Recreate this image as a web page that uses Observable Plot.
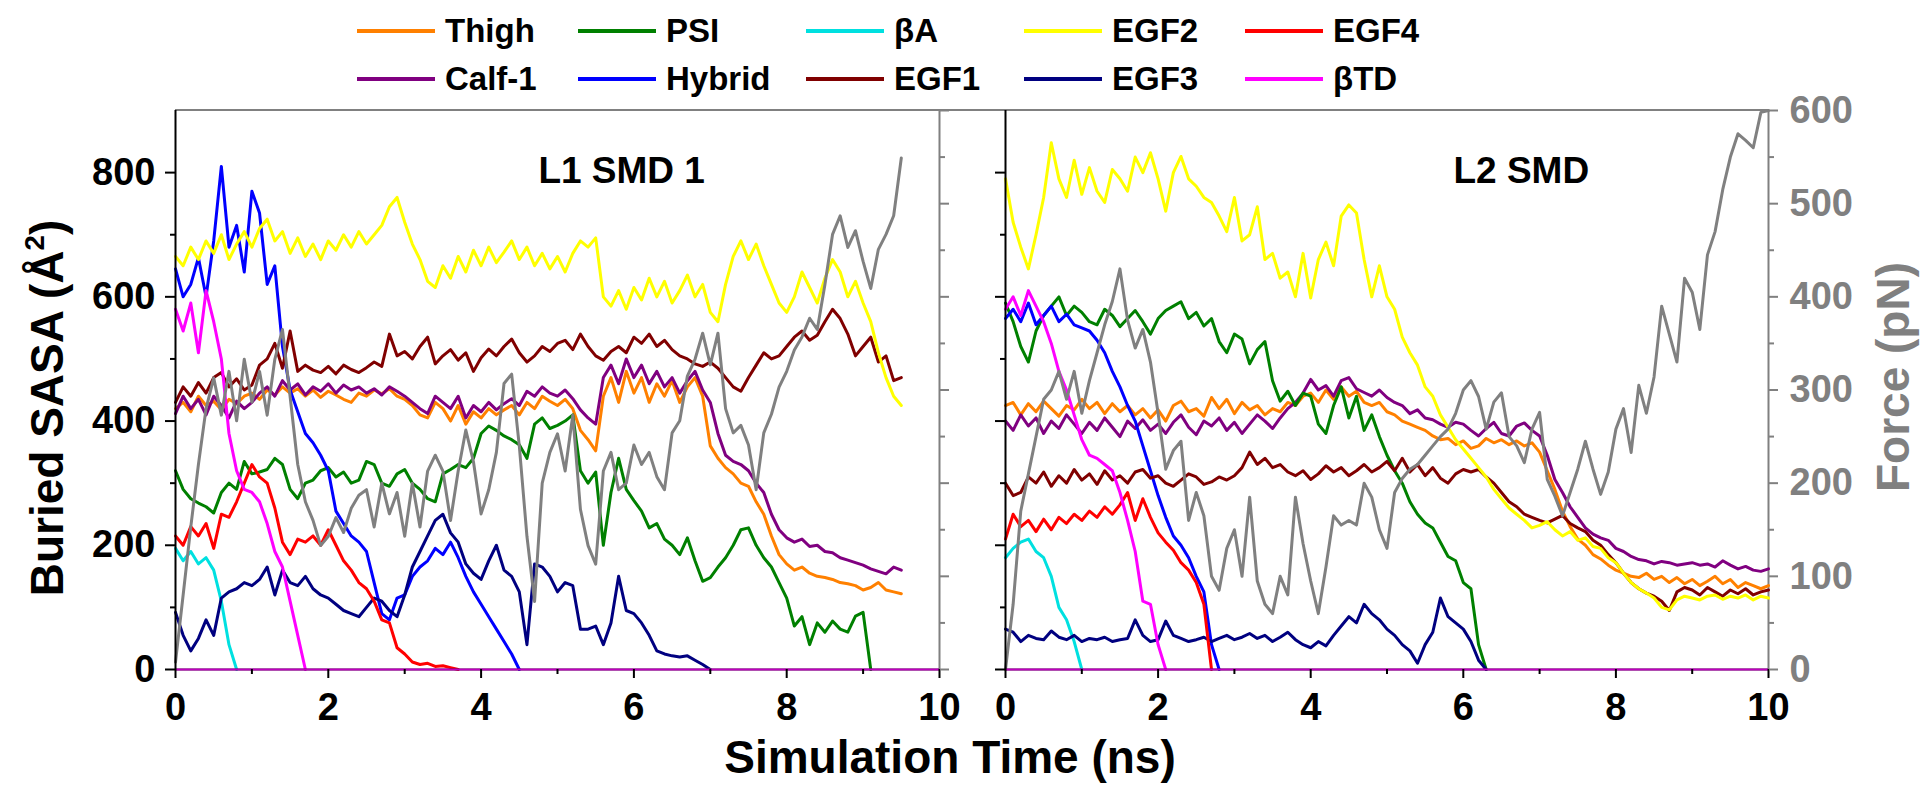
<!DOCTYPE html>
<html><head><meta charset="utf-8">
<script src="https://cdn.jsdelivr.net/npm/d3@7"></script>
<script src="https://cdn.jsdelivr.net/npm/@observablehq/plot@0.6"></script>
<style>
body{margin:0;background:#fff;}
#wrap{position:relative;width:1923px;height:798px;overflow:hidden;font-family:"Liberation Sans",Arial,sans-serif;font-weight:bold;color:#000;}
.abs{position:absolute;}
.leg{position:absolute;display:flex;align-items:center;font-size:33px;line-height:1;white-space:nowrap;}
.leg span.sw{display:inline-block;width:78px;height:4px;margin-right:10px;}
.title{position:absolute;white-space:nowrap;line-height:1;}
</style></head>
<body><div id="wrap"></div>
<script>
// ---------- categories / styling ----------
const domains = ["Thigh","Calf-1","PSI","Hybrid","βA","EGF1","EGF2","EGF3","EGF4","βTD"];
const domainColors = ["#ff8000","#800080","#008000","#0000ff","#00e0e0","#800000","#ffff00","#000080","#ff0000","#ff00ff"];
const legendRow1 = ["Thigh","PSI","βA","EGF2","EGF4"];
const legendRow2 = ["Calf-1","Hybrid","EGF1","EGF3","βTD"];
const forceColor = "#808080";
const panelLabels = ["L1 SMD 1","L2 SMD"];
const timeTicks = [0,2,4,6,8,10];
const timeMinorTicks = [1,3,5,7,9];
const sasaTicks = [0,200,400,600,800];
const sasaMinorTicks = [100,300,500,700];
const forceTicks = [0,100,200,300,400,500,600];
const forceMinorTicks = [50,150,250,350,450,550];
const timeDomain = [0,10];
const sasaDomain = [0,900];
const forceDomain = [0,600];
const dt = 0.1; // sampling interval (ns) of the series below

// ---------- L1 SMD 1 : buried SASA (Å²), one value per 0.1 ns ----------
const L1_Thigh = [420,430,415,440,425,432,418,435,428,440,445,435,450,442,455,445,452,440,450,438,
448,442,435,430,445,440,450,444,452,440,435,425,410,405,430,420,400,425,395,415,
405,420,410,418,425,410,430,420,440,432,425,435,420,385,370,352,440,470,430,480,
445,470,430,460,440,465,430,455,470,440,360,340,325,315,300,295,270,250,215,185,
170,160,165,155,150,148,145,140,138,135,128,132,140,128,125,122];
const L1_Calf1 = [412,440,420,435,410,440,425,405,432,420,430,445,455,440,465,450,460,442,455,448,
460,445,458,450,455,445,452,442,455,448,440,430,420,412,440,430,420,440,405,425,
415,430,418,428,436,425,448,440,455,445,440,450,436,418,405,395,470,490,460,500,
470,490,460,480,455,470,445,465,480,450,430,380,345,335,330,320,300,285,250,225,
212,205,210,198,200,190,188,180,176,172,168,162,158,154,165,160];
const L1_PSI = [320,290,275,268,262,252,285,300,290,335,315,318,322,340,330,290,275,300,305,320,
325,310,318,300,305,335,330,300,295,315,322,300,290,275,270,315,322,330,325,340,
380,392,385,376,370,362,340,395,405,388,393,400,410,320,300,318,200,285,340,290,
272,255,228,235,210,200,185,212,175,142,148,165,180,200,225,228,200,180,165,140,
115,70,85,40,75,60,78,65,60,86,92,0];
const L1_Hybrid = [645,600,620,663,600,690,810,680,715,640,770,735,620,650,520,450,415,380,365,345,
320,255,235,215,205,190,140,90,80,115,120,150,165,175,195,185,205,180,150,125,
105,85,65,45,25,0];
const L1_bA = [195,175,190,170,180,160,110,40,0];
const L1_EGF1 = [430,455,440,462,445,470,478,455,468,450,458,490,500,525,485,545,480,490,482,478,
488,476,490,483,478,486,495,488,540,505,512,500,520,535,492,505,515,498,510,480,
502,516,505,520,532,510,495,505,520,512,525,530,515,540,520,505,498,512,520,510,
535,525,540,520,530,515,505,500,492,488,495,485,470,455,448,470,490,510,500,505,
520,535,545,530,538,560,580,565,540,505,520,535,495,505,465,470];
const L1_EGF2 = [665,650,680,660,690,670,700,660,685,705,680,710,725,690,705,670,695,665,685,660,
690,675,700,680,705,685,700,715,745,760,720,685,660,625,615,650,630,665,640,675,
650,680,655,672,690,660,680,650,670,645,665,640,670,690,680,695,600,585,610,580,
615,595,630,600,625,590,610,635,600,620,575,560,620,665,690,660,685,650,620,590,
575,600,640,615,590,630,660,640,600,625,590,560,510,470,440,425];
const L1_EGF3 = [92,55,30,50,80,55,115,125,130,140,135,145,165,120,160,140,135,150,130,120,
115,105,95,90,85,100,115,110,95,85,120,165,190,215,240,250,220,205,170,155,
145,175,200,160,150,125,40,170,165,150,125,140,135,65,65,70,40,75,150,95,
90,75,55,30,25,22,20,22,15,8,0];
const L1_EGF4 = [215,200,230,215,235,195,250,245,270,300,330,310,300,260,205,185,210,205,215,200,
225,200,175,160,140,130,110,80,75,35,25,12,8,10,5,6,3,0];
const L1_bTD = [580,545,590,510,610,560,500,380,320,290,285,270,235,190,165,110,55,0];
// force (pN), one value per 0.1 ns
const L1_Force = [8,80,153,220,280,313,273,320,267,333,287,320,273,333,365,293,220,180,160,133,
143,163,147,173,187,193,153,200,167,190,143,200,153,213,230,213,160,213,257,223,
167,193,233,307,317,240,143,73,200,233,253,213,273,172,133,113,213,233,193,200,
241,220,233,207,193,254,267,315,333,361,327,361,280,254,262,241,193,254,274,303,
320,343,357,377,365,413,467,487,453,471,438,409,451,467,487,549];

// ---------- L2 SMD ----------
const L2_Thigh = [425,430,410,428,415,432,420,408,425,418,435,420,430,412,428,415,425,410,420,405,
418,400,425,432,415,420,408,438,420,435,412,430,418,425,410,420,415,430,425,440,
445,430,450,435,455,440,448,430,425,430,415,410,400,395,390,385,376,370,372,362,
368,356,360,372,365,370,362,368,360,365,350,320,290,255,230,210,200,185,178,168,
160,155,150,148,155,145,150,140,148,138,145,135,142,150,138,145,132,140,135,130,135];
const L2_Calf1 = [400,385,410,392,405,380,400,388,410,395,380,398,385,405,390,375,400,388,402,385,
395,380,398,410,390,378,400,392,405,385,398,380,395,410,400,388,405,420,430,445,
467,450,457,440,465,470,452,446,440,450,438,430,425,412,418,405,402,395,390,398,
395,385,376,388,398,380,376,392,397,385,376,345,306,285,262,245,228,218,212,208,
195,190,182,177,175,170,174,172,168,170,172,168,170,165,175,168,162,166,160,158,162];
const L2_PSI = [590,560,520,495,545,570,585,600,570,585,575,560,555,580,570,552,565,578,560,540,
565,578,585,592,565,575,553,565,528,510,540,532,492,515,528,465,432,448,425,445,
440,395,380,425,455,405,440,385,410,375,345,320,300,270,250,236,228,205,182,175,
140,130,40,0];
const L2_Hybrid = [565,580,560,590,555,570,585,560,572,555,550,545,530,510,480,455,425,400,360,320,
280,245,215,200,180,150,125,40,0];
const L2_bA = [180,195,205,210,190,180,150,100,80,45,0];
const L2_EGF1 = [300,280,285,310,300,318,295,312,300,322,305,315,298,320,305,312,300,318,322,308,
312,300,295,305,315,310,298,302,310,305,312,325,350,330,340,325,330,318,312,320,
306,315,328,318,325,312,320,330,318,325,335,320,340,318,330,312,325,308,300,315,
322,318,322,310,300,285,270,262,250,245,240,236,242,248,235,228,222,208,200,185,
172,155,140,130,123,118,110,95,125,132,128,120,132,125,118,128,122,130,120,125,128];
const L2_EGF2 = [790,720,680,645,700,760,848,790,760,820,765,808,770,752,805,790,770,825,800,832,
790,738,800,826,790,778,760,752,730,705,760,690,700,745,660,670,630,640,600,670,
598,660,688,650,730,748,735,660,600,650,600,580,535,510,490,455,440,410,390,370,
355,340,325,310,290,275,260,250,240,228,232,238,225,215,222,208,212,198,195,180,
172,155,140,130,123,115,100,96,112,118,115,112,118,120,113,118,115,120,112,118,115];
const L2_EGF3 = [65,60,45,55,50,48,62,52,48,55,45,50,48,52,45,48,50,80,55,45,
48,78,55,50,45,48,52,45,50,55,48,52,58,50,55,45,52,60,48,40,
35,45,38,55,70,85,75,105,90,80,65,55,40,30,10,40,60,115,85,75,65,45,15,0];
const L2_EGF4 = [210,250,230,240,222,242,225,245,235,250,240,255,245,262,250,265,285,240,275,245,
220,205,192,172,160,140,105,0];
const L2_bTD = [580,600,570,610,585,560,525,480,450,410,370,345,340,330,320,285,240,190,110,105,40,0];
const L2_Force = [0,70,170,210,250,290,300,320,290,320,275,310,340,370,395,430,375,345,365,330,
275,215,235,245,160,190,165,100,85,130,150,100,185,95,70,60,100,80,185,135,
95,60,110,165,155,160,155,200,185,150,130,190,205,215,220,230,240,250,258,275,
300,310,293,258,287,297,250,240,222,258,276,204,186,165,190,215,245,215,188,212,
258,280,233,305,275,314,390,360,330,420,405,365,445,470,515,550,575,568,560,598,600];

const L1_series = [L1_Thigh,L1_Calf1,L1_PSI,L1_Hybrid,L1_bA,L1_EGF1,L1_EGF2,L1_EGF3,L1_EGF4,L1_bTD];
const L2_series = [L2_Thigh,L2_Calf1,L2_PSI,L2_Hybrid,L2_bA,L2_EGF1,L2_EGF2,L2_EGF3,L2_EGF4,L2_bTD];

// ---------- rendering ----------
const sasaPerPN = sasaDomain[1] / forceDomain[1];
const toRows = vals => vals.map((v, i) => ({t: Math.round(i * dt * 100) / 100, v}));
const FONT = "'Liberation Sans', Arial, sans-serif";
const axisText = {fontSize: 38, fontWeight: "bold", fontFamily: FONT};
const LW = 3;

function panel({series, force, label, labelPos, width, marginLeft, marginRight, leftLabels, rightLabels}) {
  const marks = [];
  marks.push(Plot.ruleX([timeDomain[1]], {stroke: forceColor, strokeWidth: 2}));
  series.forEach((vals, k) => {
    marks.push(Plot.line(toRows(vals), {x: "t", y: "v", stroke: domainColors[k], strokeWidth: LW, strokeLinejoin: "round"}));
  });
  marks.push(Plot.line(toRows(force), {x: "t", y: d => d.v * sasaPerPN, stroke: forceColor, strokeWidth: LW, strokeLinejoin: "round"}));
  marks.push(Plot.ruleY([0], {stroke: "#000", strokeWidth: 2}));
  marks.push(Plot.ruleY([0], {stroke: domainColors[9], strokeWidth: 2, strokeOpacity: 0.75}));
  marks.push(Plot.ruleX([timeDomain[0]], {stroke: "#000", strokeWidth: 2}));
  marks.push(Plot.axisX(timeTicks, {anchor: "bottom", tickSize: 9, tickPadding: 15, strokeWidth: 2, label: null, ...axisText}));
  marks.push(Plot.axisX(timeMinorTicks, {anchor: "bottom", tickSize: 5, strokeWidth: 2, tickFormat: () => "", label: null}));
  marks.push(Plot.axisY(sasaTicks, {anchor: "left", tickSize: 10, tickPadding: 10, strokeWidth: 2, label: null,
    tickFormat: leftLabels ? (d => d) : (() => ""), ...axisText}));
  marks.push(Plot.axisY(sasaMinorTicks, {anchor: "left", tickSize: 5, strokeWidth: 2, tickFormat: () => "", label: null}));
  marks.push(Plot.axisY(forceTicks.map(f => f * sasaPerPN), {anchor: "right", tickSize: 9, tickPadding: 12, strokeWidth: 2, label: null,
    color: forceColor, tickFormat: rightLabels ? (d => Math.round(d / sasaPerPN)) : (() => ""), ...axisText}));
  marks.push(Plot.axisY(forceMinorTicks.map(f => f * sasaPerPN), {anchor: "right", tickSize: 5, strokeWidth: 2, label: null,
    color: forceColor, tickFormat: () => ""}));
  marks.push(Plot.text([label], {x: labelPos[0], y: labelPos[1], text: d => d, fontSize: 37, fontWeight: "bold", fontFamily: FONT, fill: "#000"}));
  return Plot.plot({
    width, height: 798, marginLeft, marginRight, marginTop: 110, marginBottom: 129,
    x: {domain: timeDomain}, y: {domain: sasaDomain},
    style: {fontFamily: FONT, fontWeight: "bold", background: "transparent", overflow: "visible"},
    marks
  });
}

const wrap = document.getElementById("wrap");

const topLine = document.createElement("div");
topLine.className = "abs";
Object.assign(topLine.style, {left: "175px", top: "109px", width: "1593px", height: "2px", background: forceColor});
wrap.appendChild(topLine);

const p1 = panel({series: L1_series, force: L1_Force, label: panelLabels[0], labelPos: [5.84, 803],
  width: 960, marginLeft: 175, marginRight: 21, leftLabels: true, rightLabels: false});
p1.style.position = "absolute"; p1.style.left = "0px"; p1.style.top = "0px";
wrap.appendChild(p1);

const p2 = panel({series: L2_series, force: L2_Force, label: panelLabels[1], labelPos: [6.76, 803],
  width: 963, marginLeft: 45, marginRight: 155, leftLabels: false, rightLabels: true});
p2.style.position = "absolute"; p2.style.left = "960px"; p2.style.top = "0px";
wrap.appendChild(p2);

// legend (text start positions per column)
const legTextX = [445, 666, 894, 1112, 1333];
const legRows = [14, 62];
[legendRow1, legendRow2].forEach((row, r) => {
  row.forEach((name, c) => {
    const d = document.createElement("div");
    d.className = "leg";
    d.style.left = (legTextX[c] - 88) + "px";
    d.style.top = legRows[r] + "px";
    const sw = document.createElement("span");
    sw.className = "sw";
    sw.style.background = domainColors[domains.indexOf(name)];
    const tx = document.createElement("span");
    tx.textContent = name;
    d.appendChild(sw); d.appendChild(tx);
    wrap.appendChild(d);
  });
});

// axis titles
const xt = document.createElement("div");
xt.className = "title";
Object.assign(xt.style, {left: "950px", top: "734px", fontSize: "46px", transform: "translateX(-50%)"});
xt.textContent = "Simulation Time (ns)";
wrap.appendChild(xt);

const yt = document.createElement("div");
yt.className = "title";
Object.assign(yt.style, {left: "47px", top: "408px", fontSize: "46px", transform: "translate(-50%,-50%) rotate(-90deg)"});
yt.innerHTML = "Buried SASA (Å<sup style=\"font-size:0.6em;vertical-align:0.7em;line-height:0\">2</sup>)";
wrap.appendChild(yt);

const ft = document.createElement("div");
ft.className = "title";
Object.assign(ft.style, {left: "1893px", top: "377px", fontSize: "46px", color: forceColor, transform: "translate(-50%,-50%) rotate(-90deg)"});
ft.textContent = "Force (pN)";
wrap.appendChild(ft);
</script>
</body></html>
